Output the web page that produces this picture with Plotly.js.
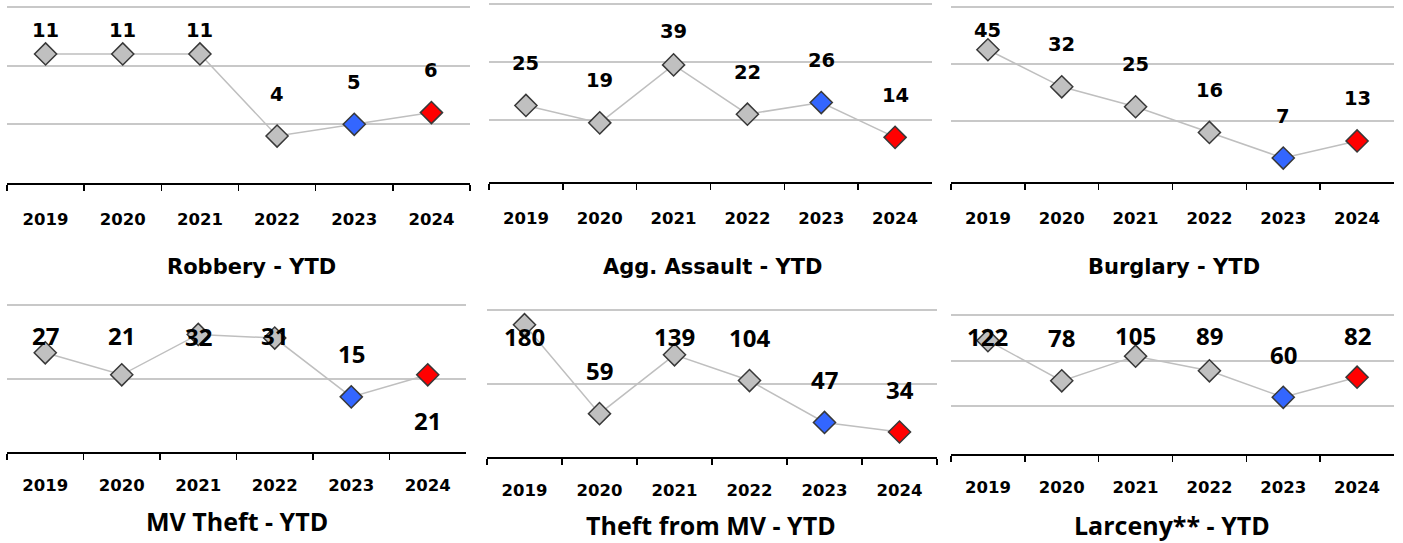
<!DOCTYPE html>
<html>
<head>
<meta charset="utf-8">
<script src="https://cdn.plot.ly/plotly-3.0.1.min.js"></script>
<style>
html,body{margin:0;padding:0;background:#fff;}
#chart{width:1403px;height:543px;}
</style>
</head>
<body>
<div id="chart"></div>
<script>
// ---------- data ----------
const years = ['2019', '2020', '2021', '2022', '2023', '2024'];
const robbery = [11, 11, 11, 4, 5, 6];
const aggAssault = [25, 19, 39, 22, 26, 14];
const burglary = [45, 32, 25, 16, 7, 13];
const mvTheft = [27, 21, 32, 31, 15, 21];
const theftFromMV = [180, 59, 139, 104, 47, 34];
const larceny = [122, 78, 105, 89, 60, 82];
const titles = ['Robbery - YTD', 'Agg. Assault - YTD', 'Burglary - YTD',
                'MV Theft - YTD', 'Theft from MV - YTD', 'Larceny** - YTD'];
const gridRobbery = [5, 10, 15];
const gridAgg = [20, 40, 60];
const gridBurglary = [20, 40, 60];
const gridMV = [20, 40];
const gridTheftMV = [100, 200];
const gridLarceny = [50, 100, 150];

// ---------- style / layout ----------
const W = 1403, H = 543;
const markerColors = ['#c0c0c0', '#c0c0c0', '#c0c0c0', '#c0c0c0', '#3366ff', '#ff0000'];
const topFont = 'DejaVu Sans, Verdana, sans-serif';
const botFont = 'Open Sans, Noto Sans, sans-serif';

// y: [pixel of top gridline, pixel of axis line]; range: [value at axis line, value at top gridline]
const panels = [
  {vals: robbery, grid: gridRobbery, x: [7, 470], y: [7, 183], range: [0, 15], titleX: 251, titleY: 267, row: 0},
  {vals: aggAssault, grid: gridAgg, x: [489, 932], y: [4, 182], range: [-1.4, 60], titleX: 713, titleY: 267, row: 0},
  {vals: burglary, grid: gridBurglary, x: [951, 1394], y: [7, 182], range: [-1.4, 60], titleX: 1174, titleY: 267, row: 0},
  {vals: mvTheft, grid: gridMV, x: [7, 466], y: [305, 452], range: [0, 40], titleX: 237, titleY: 521, row: 1, below: [5]},
  {vals: theftFromMV, grid: gridTheftMV, x: [487, 937], y: [310, 457], range: [0, 200], titleX: 711, titleY: 525, row: 1},
  {vals: larceny, grid: gridLarceny, x: [951, 1394], y: [315, 454], range: [-2, 150], titleX: 1172, titleY: 525, row: 1}
];

const rowStyle = [
  {labelFont: {family: topFont, size: 19.5, color: '#000', weight: 700}, titleFont: {family: topFont, size: 21, color: '#000', weight: 700}, off: 42, clamp: 31, standoff: 21},
  {labelFont: {family: botFont, size: 24, color: '#000', weight: 700}, titleFont: {family: botFont, size: 25, color: '#000', weight: 700}, off: 43, clamp: 336, standoff: 18}
];

const traces = [];
const annotations = [];
const layout = {
  width: W, height: H,
  margin: {l: 0, r: 0, t: 0, b: 0},
  paper_bgcolor: '#ffffff', plot_bgcolor: 'rgba(0,0,0,0)',
  showlegend: false,
  annotations: annotations
};

const EXTRA = 4; // px of headroom above the top gridline so it is not clipped
panels.forEach((p, i) => {
  const n = i + 1;
  const xa = n === 1 ? 'x' : 'x' + n;
  const ya = n === 1 ? 'y' : 'y' + n;
  const xk = n === 1 ? 'xaxis' : 'xaxis' + n;
  const yk = n === 1 ? 'yaxis' : 'yaxis' + n;
  const rs = rowStyle[p.row];
  const perPx = (p.range[1] - p.range[0]) / (p.y[1] - p.y[0]);
  const topPx = p.y[0] - EXTRA;
  const rmax = p.range[1] + EXTRA * perPx;

  traces.push({
    type: 'scatter', mode: 'lines+markers',
    x: years, y: p.vals, xaxis: xa, yaxis: ya,
    line: {color: '#bfbfbf', width: 1.5},
    marker: {symbol: 'diamond', size: 17, color: markerColors,
             line: {color: '#383838', width: 1.5}},
    hoverinfo: 'x+y', cliponaxis: false
  });

  layout[xk] = {
    domain: [p.x[0] / W, p.x[1] / W],
    anchor: ya, type: 'category', categoryorder: 'array', categoryarray: years,
    range: [-0.5, 5.5], fixedrange: true,
    showline: true, linecolor: '#000', linewidth: 1.5,
    ticks: 'outside', ticklen: 6, tickwidth: 1.5, tickcolor: '#000',
    tickson: 'boundaries', showgrid: false, zeroline: false,
    ticklabelstandoff: rs.standoff,
    tickfont: {family: topFont, size: 16.5, color: '#000', weight: 700}
  };
  layout[yk] = {
    domain: [1 - p.y[1] / H, 1 - topPx / H],
    anchor: xa, range: [p.range[0], rmax], fixedrange: true,
    tickvals: p.grid, showticklabels: false, ticks: '',
    showline: false, zeroline: false,
    showgrid: true, gridcolor: '#c8c8c8', gridwidth: 2
  };

  // data labels, anchored on each point, lifted above it (kept below the chart top)
  p.vals.forEach((v, j) => {
    const px = p.y[1] - (v - p.range[0]) / perPx;
    const below = p.below && p.below.indexOf(j) >= 0;
    const shift = below ? -46 : Math.min(rs.off, px - rs.clamp);
    annotations.push({
      xref: xa, yref: ya, x: j, y: v, text: String(v),
      showarrow: false, xanchor: 'center', yanchor: 'middle',
      yshift: shift, font: rs.labelFont
    });
  });

  // panel title
  annotations.push({
    xref: 'paper', yref: 'paper', x: p.titleX / W, y: 1 - p.titleY / H,
    text: titles[i], showarrow: false, xanchor: 'center', yanchor: 'middle',
    font: rs.titleFont
  });
});

Plotly.newPlot('chart', traces, layout, {displayModeBar: false, staticPlot: true});
</script>
</body>
</html>
